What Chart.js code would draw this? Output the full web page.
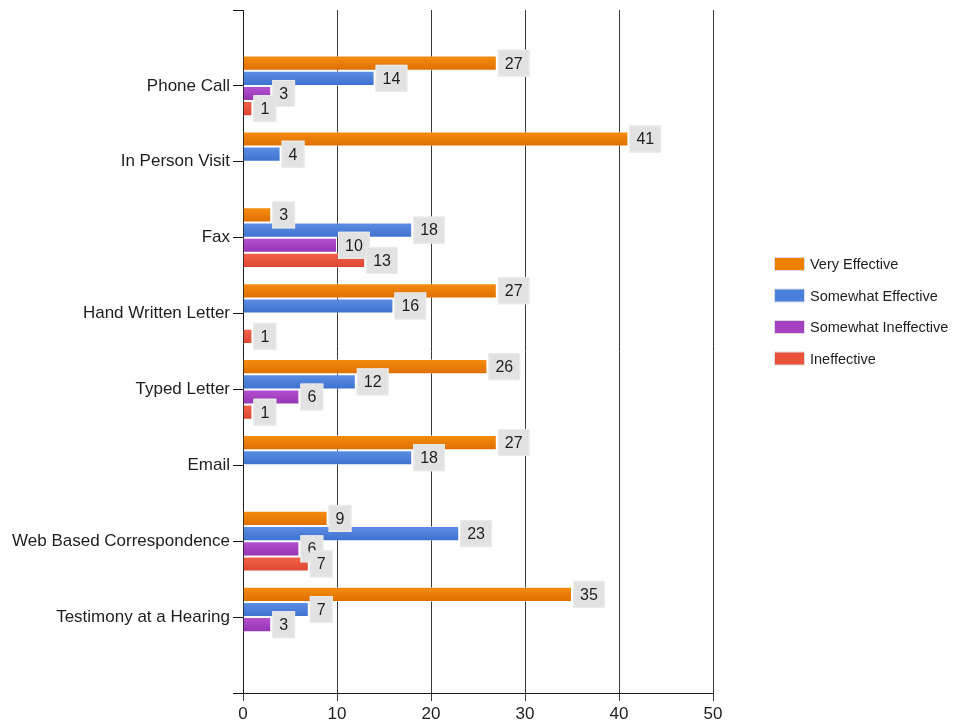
<!DOCTYPE html>
<html>
<head>
<meta charset="utf-8">
<script src="https://cdn.jsdelivr.net/npm/chart.js@4/dist/chart.umd.min.js"></script>
<style>
  html, body { margin: 0; padding: 0; background: #ffffff; }
  #wrap { width: 953px; height: 727px; position: relative; }
</style>
</head>
<body>
<div id="wrap"><canvas id="c"></canvas></div>
<script>
// ---- data ----
const categories = ["Phone Call", "In Person Visit", "Fax", "Hand Written Letter", "Typed Letter", "Email", "Web Based Correspondence", "Testimony at a Hearing"];
const seriesNames = ["Very Effective", "Somewhat Effective", "Somewhat Ineffective", "Ineffective"];
const veryEffective       = [27, 41, 3, 27, 26, 27, 9, 35];
const somewhatEffective   = [14, 4, 18, 16, 12, 18, 23, 7];
const somewhatIneffective = [3, null, 10, null, 6, null, 6, 3];
const ineffective         = [1, null, 13, 1, 1, null, 7, null];
const xTicks = [0, 10, 20, 30, 40, 50];

// ---- styles ----
const baseColors = ["#ee7e00", "#4a7fdb", "#a542c4", "#ea5239"];
const topColors = ["#f68e10", "#5e8fe4", "#b552d2", "#f3644c"];
const bottomColors = ["#de6e00", "#3d70cf", "#9334b2", "#dc4530"];
const FONT = "'Liberation Sans', Arial, sans-serif";

const seriesValues = [veryEffective, somewhatEffective, somewhatIneffective, ineffective];
// padding slots at top & bottom of the category axis (empty)
const yLabels = [""].concat(categories, [""]);

const datasets = seriesValues.map((vals, i) => ({
  label: seriesNames[i],
  data: [null].concat(vals, [null]),
  backgroundColor: baseColors[i],
  borderColor: "rgba(255,255,255,0.45)",
  borderWidth: 1,
  categoryPercentage: 0.8,
  barPercentage: 1.0
}));

const gradientPlugin = {
  id: "barGradient",
  beforeDatasetsDraw(chart) {
    const ctx = chart.ctx;
    chart.data.datasets.forEach((ds, i) => {
      const meta = chart.getDatasetMeta(i);
      meta.data.forEach((el, j) => {
        if (ds.data[j] == null) return;
        const h = el.height;
        const top = el.y - h / 2, bot = el.y + h / 2;
        const g = ctx.createLinearGradient(0, top, 0, bot);
        g.addColorStop(0, topColors[i]);
        g.addColorStop(1, bottomColors[i]);
        el.options = Object.assign({}, el.options, { backgroundColor: g });
      });
    });
  }
};

const labelPlugin = {
  id: "valueBoxes",
  afterDatasetsDraw(chart) {
    const ctx = chart.ctx;
    ctx.save();
    ctx.font = "16px " + FONT;
    ctx.textAlign = "center";
    ctx.textBaseline = "middle";
    chart.data.datasets.forEach((ds, i) => {
      const meta = chart.getDatasetMeta(i);
      meta.data.forEach((el, j) => {
        const v = ds.data[j];
        if (v == null) return;
        const txt = String(v);
        const w = ctx.measureText(txt).width + 14;
        const h = 27;
        const x0 = el.x + 1;
        const y0 = el.y - h / 2;
        ctx.fillStyle = "#e2e2e2";
        ctx.fillRect(x0, y0, w, h);
        ctx.strokeStyle = "#ececec";
        ctx.lineWidth = 1;
        ctx.strokeRect(x0 + 0.5, y0 + 0.5, w - 1, h - 1);
        ctx.fillStyle = "#1e1e1e";
        ctx.fillText(txt, x0 + w / 2, el.y + 1);
      });
    });
    ctx.restore();
  }
};

const legendPlugin = {
  id: "sideLegend",
  afterDraw(chart) {
    const ctx = chart.ctx;
    ctx.save();
    ctx.font = "14.5px " + FONT;
    ctx.textAlign = "left";
    ctx.textBaseline = "middle";
    const rowY = [264, 295.5, 327, 358.5];
    chart.data.datasets.forEach((ds, i) => {
      const y = rowY[i];
      ctx.fillStyle = "#dddddd";
      ctx.fillRect(774, y - 7, 31, 14);
      ctx.fillStyle = ds.backgroundColor;
      ctx.fillRect(775, y - 6, 29, 12);
      ctx.fillStyle = "#1e1e1e";
      ctx.fillText(ds.label, 810, y + 1);
    });
    ctx.restore();
  }
};

new Chart(document.getElementById("c"), {
  type: "bar",
  data: { labels: yLabels, datasets: datasets },
  options: {
    indexAxis: "y",
    responsive: true,
    maintainAspectRatio: false,
    animation: false,
    layout: { padding: { left: 0, right: 240, top: 10, bottom: 0 } },
    plugins: {
      legend: { display: false },
      tooltip: { enabled: false },
      title: { display: false }
    },
    scales: {
      x: {
        type: "linear",
        min: xTicks[0],
        max: xTicks[xTicks.length - 1],
        afterBuildTicks(scale) { scale.ticks = xTicks.map(v => ({ value: v })); },
        afterFit(scale) { scale.height = 34; scale.paddingLeft = 0; },
        grid: {
          display: true,
          drawOnChartArea: true,
          drawTicks: true,
          tickLength: 8,
          color: "#3a3a3a",
          lineWidth: 1
        },
        border: { display: true, color: "#1a1a1a", width: 1 },
        ticks: {
          color: "#1e1e1e",
          padding: 3,
          font: { family: FONT, size: 17 }
        }
      },
      y: {
        type: "category",
        offset: false,
        afterFit(scale) { scale.width = 243; scale.paddingTop = 0; scale.paddingBottom = 0; },
        grid: {
          display: true,
          offset: false,
          drawOnChartArea: false,
          drawTicks: true,
          tickLength: 10,
          color: "#1a1a1a",
          lineWidth: 1
        },
        border: { display: true, color: "#1a1a1a", width: 1 },
        ticks: {
          autoSkip: false,
          color: "#1e1e1e",
          padding: 3,
          font: { family: FONT, size: 17 }
        }
      }
    }
  },
  plugins: [gradientPlugin, labelPlugin, legendPlugin]
});
</script>
</body>
</html>
